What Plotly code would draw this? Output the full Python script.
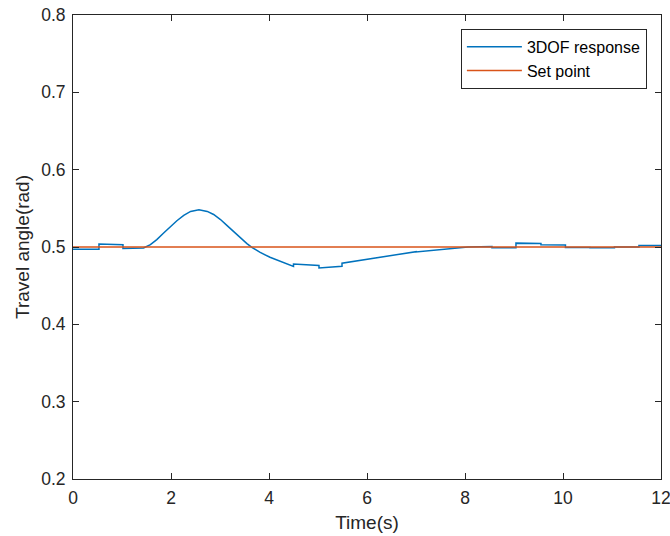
import plotly.graph_objects as go

# Response data (time in s, travel angle in rad)
t_resp = [0, 0.53, 0.53, 1.02, 1.02, 1.44, 1.58, 1.71, 1.85, 1.99, 2.12, 2.26,
          2.40, 2.57, 2.74, 2.87, 3.01, 3.14, 3.28, 3.42, 3.55, 3.65, 3.82, 4.02,
          4.19, 4.35, 4.5, 4.5, 5.02, 5.02, 5.49, 5.49, 6.0, 6.42, 7.0, 7.0, 7.5,
          8.06, 8.55, 8.55, 9.04, 9.04, 9.55, 9.55, 10.05, 10.05, 10.55, 10.55,
          11.05, 11.05, 11.55, 11.55, 12.0]
y_resp = [0.497, 0.497, 0.504, 0.503, 0.498, 0.4988, 0.503, 0.5096, 0.518, 0.5268,
          0.534, 0.541, 0.546, 0.548, 0.546, 0.542, 0.5355, 0.528, 0.5195, 0.5117,
          0.5044, 0.4996, 0.493, 0.4867, 0.4828, 0.479, 0.475, 0.478, 0.476, 0.473,
          0.475, 0.479, 0.484, 0.489, 0.494, 0.4935, 0.497, 0.500, 0.5005, 0.499,
          0.499, 0.505, 0.5045, 0.503, 0.5025, 0.4995, 0.4995, 0.499, 0.499, 0.500,
          0.500, 0.502, 0.502]
t_set = [0, 12]
y_set = [0.5, 0.5]

x_ticks = [0, 2, 4, 6, 8, 10, 12]
y_ticks = [0.2, 0.3, 0.4, 0.5, 0.6, 0.7, 0.8]

FONT = "Liberation Sans"
AX = "#262626"

fig = go.Figure()
fig.add_trace(go.Scatter(x=t_resp, y=y_resp, mode="lines", name="3DOF response",
                         line=dict(color="#0072BD", width=1.5)))
fig.add_trace(go.Scatter(x=t_set, y=y_set, mode="lines", name="Set point",
                         line=dict(color="#D95319", width=1.5)))

axis_common = dict(showline=True, linecolor=AX, linewidth=1, mirror="ticks",
                   ticks="inside", ticklen=6, tickcolor=AX, showgrid=False,
                   zeroline=False, automargin=False, ticklabeloverflow="allow",
                   tickfont=dict(family=FONT, size=17.5, color=AX))

fig.update_xaxes(range=[0, 12], tickvals=x_ticks, ticktext=[str(v) for v in x_ticks],
                 ticklabelstandoff=3,
                 title=dict(text="Time(s)", font=dict(family=FONT, size=19, color=AX),
                            standoff=8), **axis_common)
fig.update_yaxes(range=[0.2, 0.8], tickvals=y_ticks, ticktext=[f"{v:.1f}" for v in y_ticks],
                 ticklabelstandoff=3,
                 title=dict(text="Travel angle(rad)", font=dict(family=FONT, size=19, color=AX),
                            standoff=6), **axis_common)

fig.update_layout(
    width=670, height=536,
    margin=dict(l=73, r=9, t=15, b=57),
    paper_bgcolor="white", plot_bgcolor="white",
    showlegend=True,
    legend=dict(x=0.976, y=0.970, xanchor="right", yanchor="top",
                bgcolor="white", bordercolor=AX, borderwidth=1,
                font=dict(family=FONT, size=16, color="#000000"),
                itemwidth=55, tracegroupgap=0),
)

fig.write_html("out.html")
